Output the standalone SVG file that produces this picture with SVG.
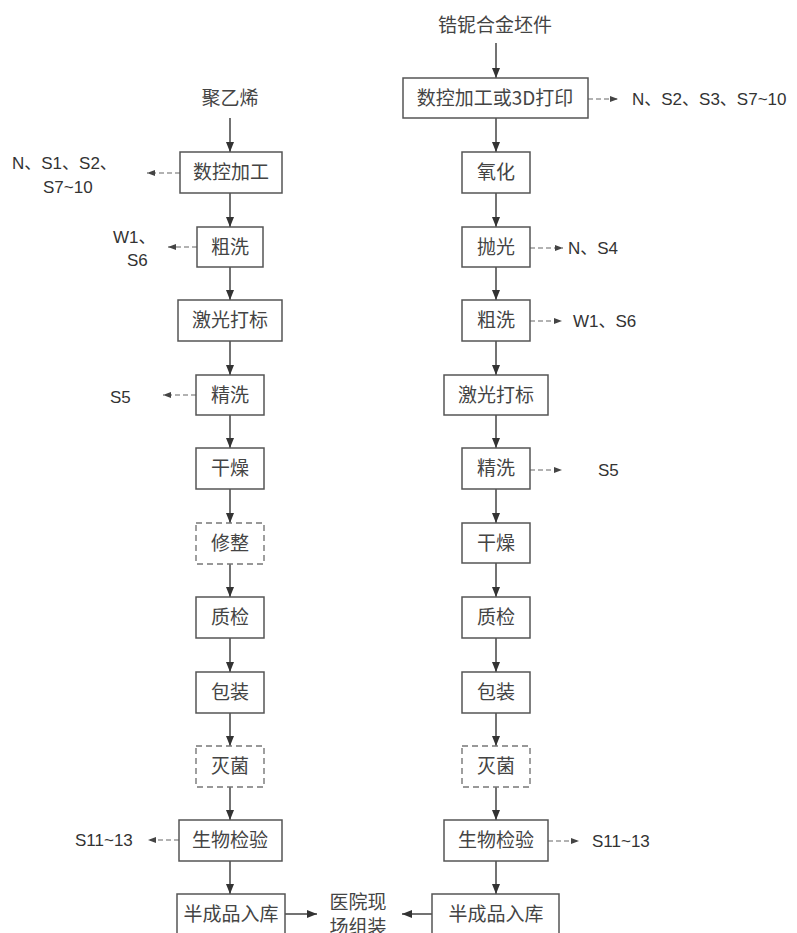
<svg xmlns="http://www.w3.org/2000/svg" width="797" height="933" viewBox="0 0 797 933">
<style>
.box{fill:#fff;stroke:#555;stroke-width:1.5}
.dbox{fill:#fff;stroke:#777;stroke-width:1.4;stroke-dasharray:6,4}
.t{font-family:"Noto Sans CJK SC","Liberation Serif",serif;font-size:19px;fill:#444;text-anchor:middle}
.lb{font-family:"Liberation Sans","Noto Sans CJK SC",sans-serif;font-size:17px;fill:#333}
.c{stroke:#444;stroke-width:1.5;fill:none}
.dc{stroke:#666;stroke-width:1.2;fill:none;stroke-dasharray:5,3}
</style>
<defs>
<marker id="ah" markerUnits="userSpaceOnUse" markerWidth="10" markerHeight="10" refX="10" refY="5" orient="auto">
<path d="M0,1 L10,5 L0,9 z" fill="#333"/>
</marker>
<marker id="dh" markerUnits="userSpaceOnUse" markerWidth="8" markerHeight="8" refX="8" refY="4" orient="auto">
<path d="M0,1 L8,4 L0,7 z" fill="#444"/>
</marker>
</defs>
<rect width="797" height="933" fill="#fff"/>

<g id="connectors">
<!-- left column solid -->
<line class="c" x1="230" y1="118" x2="230" y2="152" marker-end="url(#ah)"/>
<line class="c" x1="230" y1="193" x2="230" y2="227" marker-end="url(#ah)"/>
<line class="c" x1="230" y1="267" x2="230" y2="300" marker-end="url(#ah)"/>
<line class="c" x1="230" y1="341" x2="230" y2="375" marker-end="url(#ah)"/>
<line class="c" x1="230" y1="415" x2="230" y2="448" marker-end="url(#ah)"/>
<line class="c" x1="230" y1="489" x2="230" y2="523" marker-end="url(#ah)"/>
<line class="c" x1="230" y1="564" x2="230" y2="597" marker-end="url(#ah)"/>
<line class="c" x1="230" y1="638" x2="230" y2="672" marker-end="url(#ah)"/>
<line class="c" x1="230" y1="713" x2="230" y2="746" marker-end="url(#ah)"/>
<line class="c" x1="230" y1="787" x2="230" y2="820" marker-end="url(#ah)"/>
<line class="c" x1="230" y1="861" x2="230" y2="894" marker-end="url(#ah)"/>
<line class="c" x1="285" y1="914" x2="317" y2="914" marker-end="url(#ah)"/>
<!-- right column solid -->
<line class="c" x1="496" y1="43" x2="496" y2="78" marker-end="url(#ah)"/>
<line class="c" x1="496" y1="118" x2="496" y2="152" marker-end="url(#ah)"/>
<line class="c" x1="496" y1="193" x2="496" y2="227" marker-end="url(#ah)"/>
<line class="c" x1="496" y1="267" x2="496" y2="300" marker-end="url(#ah)"/>
<line class="c" x1="496" y1="341" x2="496" y2="375" marker-end="url(#ah)"/>
<line class="c" x1="496" y1="415" x2="496" y2="448" marker-end="url(#ah)"/>
<line class="c" x1="496" y1="489" x2="496" y2="523" marker-end="url(#ah)"/>
<line class="c" x1="496" y1="563" x2="496" y2="597" marker-end="url(#ah)"/>
<line class="c" x1="496" y1="638" x2="496" y2="672" marker-end="url(#ah)"/>
<line class="c" x1="496" y1="713" x2="496" y2="746" marker-end="url(#ah)"/>
<line class="c" x1="496" y1="787" x2="496" y2="820" marker-end="url(#ah)"/>
<line class="c" x1="496" y1="861" x2="496" y2="894" marker-end="url(#ah)"/>
<line class="c" x1="432" y1="914" x2="402" y2="914" marker-end="url(#ah)"/>
<!-- left dashed -->
<line class="dc" x1="180" y1="173" x2="147" y2="173" marker-end="url(#dh)"/>
<line class="dc" x1="197" y1="247" x2="168" y2="247" marker-end="url(#dh)"/>
<line class="dc" x1="196" y1="395" x2="163" y2="395" marker-end="url(#dh)"/>
<line class="dc" x1="179" y1="840" x2="148" y2="840" marker-end="url(#dh)"/>
<!-- right dashed -->
<line class="dc" x1="588" y1="99" x2="618" y2="99" marker-end="url(#dh)"/>
<line class="dc" x1="530" y1="248" x2="563" y2="248" marker-end="url(#dh)"/>
<line class="dc" x1="530" y1="321" x2="562" y2="321" marker-end="url(#dh)"/>
<line class="dc" x1="530" y1="470" x2="562" y2="470" marker-end="url(#dh)"/>
<line class="dc" x1="548" y1="841" x2="579" y2="841" marker-end="url(#dh)"/>
</g>

<!-- left column -->
<g id="L_input"><text class="t" x="230" y="105">聚乙烯</text></g>
<g id="L1"><rect class="box" x="180" y="152" width="102" height="41"/><text class="t" x="231" y="179">数控加工</text></g>
<g id="L2"><rect class="box" x="197" y="227" width="66" height="40"/><text class="t" x="230" y="254">粗洗</text></g>
<g id="L3"><rect class="box" x="178" y="300" width="104" height="41"/><text class="t" x="230" y="327">激光打标</text></g>
<g id="L4"><rect class="box" x="196" y="375" width="68" height="40"/><text class="t" x="230" y="402">精洗</text></g>
<g id="L5"><rect class="box" x="196" y="448" width="68" height="41"/><text class="t" x="230" y="475">干燥</text></g>
<g id="L6"><rect class="dbox" x="196" y="523" width="68" height="41"/><text class="t" x="230" y="550">修整</text></g>
<g id="L7"><rect class="box" x="196" y="597" width="68" height="41"/><text class="t" x="230" y="624">质检</text></g>
<g id="L8"><rect class="box" x="196" y="672" width="68" height="41"/><text class="t" x="230" y="699">包装</text></g>
<g id="L9"><rect class="dbox" x="196" y="746" width="68" height="41"/><text class="t" x="230" y="773">灭菌</text></g>
<g id="L10"><rect class="box" x="179" y="820" width="103" height="41"/><text class="t" x="230" y="847">生物检验</text></g>
<g id="L11"><rect class="box" x="177" y="894" width="108" height="50"/><text class="t" x="231" y="921">半成品入库</text></g>

<!-- left labels -->
<g id="L1_out"><text class="lb" x="12" y="169">N、S1、S2、</text><text class="lb" x="43" y="193">S7~10</text></g>
<g id="L2_out"><text class="lb" x="113" y="243">W1、</text><text class="lb" x="127" y="266">S6</text></g>
<g id="L4_out"><text class="lb" x="110" y="403">S5</text></g>
<g id="L10_out"><text class="lb" x="75" y="846">S11~13</text></g>

<!-- right column -->
<g id="R_input"><text class="t" x="495" y="32">锆铌合金坯件</text></g>
<g id="R1"><rect class="box" x="403" y="78" width="185" height="40"/><text class="t" x="495" y="105">数控加工或3D打印</text></g>
<g id="R2"><rect class="box" x="462" y="152" width="68" height="41"/><text class="t" x="496" y="179">氧化</text></g>
<g id="R3"><rect class="box" x="462" y="227" width="68" height="40"/><text class="t" x="496" y="254">抛光</text></g>
<g id="R4"><rect class="box" x="462" y="300" width="68" height="41"/><text class="t" x="496" y="327">粗洗</text></g>
<g id="R5"><rect class="box" x="444" y="375" width="104" height="40"/><text class="t" x="496" y="402">激光打标</text></g>
<g id="R6"><rect class="box" x="462" y="448" width="68" height="41"/><text class="t" x="496" y="475">精洗</text></g>
<g id="R7"><rect class="box" x="462" y="523" width="68" height="40"/><text class="t" x="496" y="550">干燥</text></g>
<g id="R8"><rect class="box" x="462" y="597" width="68" height="41"/><text class="t" x="496" y="624">质检</text></g>
<g id="R9"><rect class="box" x="462" y="672" width="68" height="41"/><text class="t" x="496" y="699">包装</text></g>
<g id="R10"><rect class="dbox" x="462" y="746" width="68" height="41"/><text class="t" x="496" y="773">灭菌</text></g>
<g id="R11"><rect class="box" x="444" y="820" width="104" height="41"/><text class="t" x="496" y="847">生物检验</text></g>
<g id="R12"><rect class="box" x="432" y="894" width="127" height="50"/><text class="t" x="496" y="921">半成品入库</text></g>

<!-- right labels -->
<g id="R1_out"><text class="lb" x="632" y="105">N、S2、S3、S7~10</text></g>
<g id="R3_out"><text class="lb" x="568" y="254">N、S4</text></g>
<g id="R4_out"><text class="lb" x="573" y="327">W1、S6</text></g>
<g id="R6_out"><text class="lb" x="598" y="476">S5</text></g>
<g id="R11_out"><text class="lb" x="592" y="847">S11~13</text></g>

<!-- assembly -->
<g id="assembly"><text class="t" x="358" y="909">医院现</text><text class="t" x="358" y="934">场组装</text></g>
</svg>
